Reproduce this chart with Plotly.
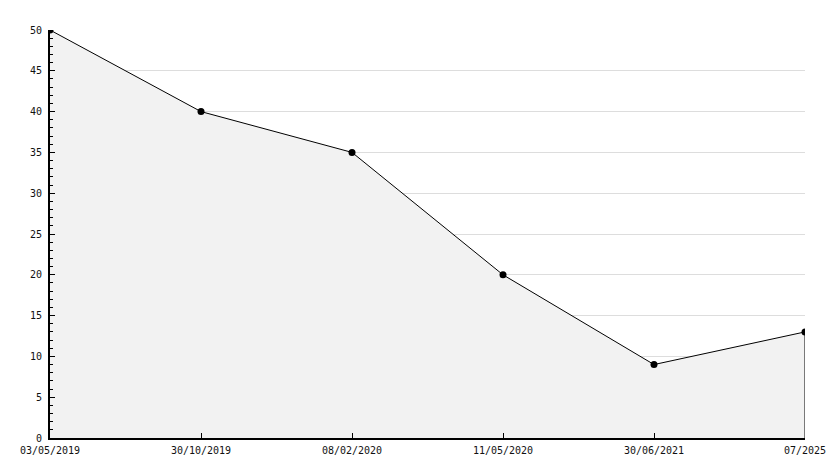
import plotly.graph_objects as go

dates = ["03/05/2019", "30/10/2019", "08/02/2020", "11/05/2020", "30/06/2021", "07/2025"]
values = [50, 40, 35, 20, 9, 13]
y_ticks = [0, 5, 10, 15, 20, 25, 30, 35, 40, 45, 50]

fig = go.Figure()
fig.add_trace(go.Scatter(
    x=dates, y=values, mode="lines+markers",
    line=dict(color="black", width=1),
    marker=dict(symbol="circle", size=7, color="black"),
    fill="tozeroy", fillcolor="#f2f2f2",
    hoverinfo="x+y",
))
fig.add_shape(type="line", xref="x", yref="y",
              x0=dates[-1], x1=dates[-1], y0=0, y1=values[-1],
              line=dict(color="black", width=1))

font = dict(family="DejaVu Sans Mono", size=10, color="#111111")
# the page body has an 8px margin, so the figure is offset by 8px
fig.update_layout(
    width=822, height=452,
    margin=dict(l=42, r=25, t=22, b=22),
    paper_bgcolor="white", plot_bgcolor="white",
    showlegend=False,
    font=font,
    xaxis=dict(
        type="category", range=[0, len(dates) - 1],
        automargin=False,
        showgrid=False, zeroline=False,
        showline=True, linecolor="black", linewidth=2,
        ticks="inside", ticklen=5, tickcolor="black", tickwidth=1,
        tickfont=font, ticklabelstandoff=2,
    ),
    yaxis=dict(
        range=[0, 50], tickvals=y_ticks,
        automargin=False,
        showgrid=True, gridcolor="#dddddd", gridwidth=1,
        zeroline=False,
        showline=True, linecolor="black", linewidth=2,
        ticks="inside", ticklen=5, tickcolor="black", tickwidth=1,
        minor=dict(dtick=1, ticks="inside", ticklen=3, tickcolor="black", showgrid=False),
        tickfont=font, ticklabelstandoff=4,
    ),
)
fig.write_html("out.html")
